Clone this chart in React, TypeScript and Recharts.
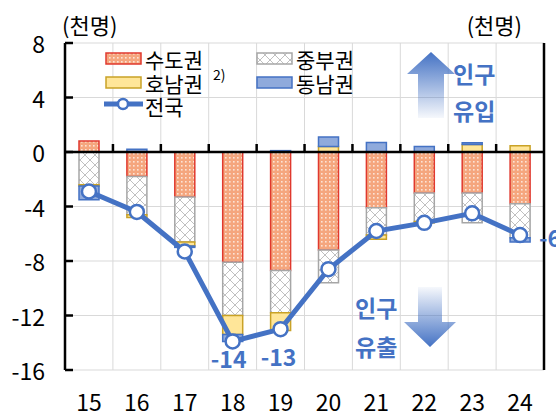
import {
  ComposedChart,
  Bar,
  Line,
  XAxis,
  YAxis,
  CartesianGrid,
  ReferenceLine,
  LabelList,
} from "recharts";

const FONT = '"Noto Sans CJK KR", "Noto Sans", sans-serif';
const BLUE = "#4472C4";

const years = ["15", "16", "17", "18", "19", "20", "21", "22", "23", "24"];
const sudo = [0.8, -1.8, -3.3, -8.1, -8.7, -7.2, -4.1, -3.0, -3.0, -3.8];
const jungbu = [-2.4, -2.8, -3.3, -3.9, -3.1, -2.4, -2.0, -2.1, -2.2, -2.5];
const honam = [-0.1, -0.2, -0.3, -1.4, -1.3, 0.4, -0.3, -0.1, 0.55, 0.45];
const dongnam = [-1.0, 0.2, -0.1, -0.5, 0.1, 0.7, 0.7, 0.4, 0.12, -0.3];
const total = [-2.9, -4.4, -7.3, -13.9, -13.0, -8.6, -5.8, -5.2, -4.5, -6.1];
const yTicks = [-16, -12, -8, -4, 0, 4, 8];

const data = years.map((y, i) => ({
  year: y,
  sudo: sudo[i],
  jungbu: jungbu[i],
  honam: honam[i],
  dongnam: dongnam[i],
  total: total[i],
}));

// plot box: x 65..544, y 43..370
const ZERO_Y = 152;

const LeftTick = ({ y, payload }: any) => (
  <g>
    <text
      x={45}
      y={y}
      textAnchor="end"
      dominantBaseline="central"
      fontSize={23}
      fontFamily={FONT}
      fill="#000"
    >
      {payload.value}
    </text>
    <line x1={65} x2={73} y1={y} y2={y} stroke="#000" strokeWidth={2.5} />
  </g>
);

const RightTick = ({ y }: any) => (
  <line x1={536} x2={544} y1={y} y2={y} stroke="#000" strokeWidth={2.5} />
);

const XTick = ({ x, payload, index }: any) => (
  <g>
    <text
      x={x}
      y={401}
      textAnchor="middle"
      dominantBaseline="central"
      fontSize={23}
      fontFamily={FONT}
      fill="#000"
    >
      {payload.value}
    </text>
    {index < years.length - 1 && (
      <line
        x1={x + 24}
        x2={x + 24}
        y1={ZERO_Y - 8}
        y2={ZERO_Y}
        stroke="#000"
        strokeWidth={2.5}
      />
    )}
  </g>
);

const labelPos: Record<number, [number, number, string]> = {
  3: [-4, 17, "middle"],
  4: [-2, 27, "middle"],
  9: [19, 2, "start"],
};

const TotalLabel = ({ x, y, value, index }: any) => {
  const p = labelPos[index];
  if (!p) return null;
  return (
    <text
      x={x + p[0]}
      y={y + p[1]}
      textAnchor={p[2]}
      dominantBaseline="central"
      fontSize={23}
      fontWeight="bold"
      fontFamily={FONT}
      fill={BLUE}
    >
      {Math.round(value)}
    </text>
  );
};

export default function App() {
  return (
    <div
      style={{
        position: "absolute",
        left: 0,
        top: 0,
        width: 556,
        height: 414,
        background: "#fff",
        fontFamily: FONT,
      }}
    >
      <svg width={0} height={0} style={{ position: "absolute" }}>
        <defs>
          <pattern id="pDot" width="4" height="4" patternUnits="userSpaceOnUse">
            <rect width="4" height="4" fill="#F5A67E" />
            <rect x="1" y="1" width="1.6" height="1.6" fill="#FDE3D6" />
          </pattern>
          <pattern id="pCross" width="10" height="10" patternUnits="userSpaceOnUse">
            <rect width="10" height="10" fill="#fff" />
            <path d="M0 0L10 10M10 0L0 10" stroke="#C0C0C0" strokeWidth="1" />
          </pattern>
          <linearGradient id="gUp" x1="0" y1="0" x2="0" y2="1">
            <stop offset="0" stopColor={BLUE} />
            <stop offset="1" stopColor={BLUE} stopOpacity="0.05" />
          </linearGradient>
          <linearGradient id="gDown" x1="0" y1="0" x2="0" y2="1">
            <stop offset="0" stopColor={BLUE} stopOpacity="0.05" />
            <stop offset="1" stopColor={BLUE} />
          </linearGradient>
        </defs>
      </svg>

      <ComposedChart
        width={556}
        height={414}
        data={data}
        stackOffset="sign"
        margin={{ top: 43, right: 0, bottom: 0, left: 0 }}
      >
        <CartesianGrid
          yAxisId="l"
          stroke="#D9D9D9"
          strokeWidth={1}
          verticalCoordinatesGenerator={({ offset }: any) =>
            years.map((_, i) => offset.left + (i * offset.width) / years.length)
          }
        />
        <XAxis
          dataKey="year"
          height={44}
          axisLine={false}
          tickLine={false}
          tick={<XTick />}
          interval={0}
        />
        <YAxis
          yAxisId="l"
          width={65}
          domain={[-16, 8]}
          ticks={yTicks}
          interval={0}
          axisLine={{ stroke: "#000", strokeWidth: 2.5 }}
          tickLine={false}
          tick={<LeftTick />}
        />
        <YAxis
          yAxisId="r"
          orientation="right"
          width={12}
          domain={[-16, 8]}
          ticks={yTicks}
          interval={0}
          axisLine={{ stroke: "#000", strokeWidth: 2.5 }}
          tickLine={false}
          tick={<RightTick />}
        />
        <Bar yAxisId="l" dataKey="sudo" stackId="a" barSize={20} fill="url(#pDot)" stroke="#E0392E" strokeWidth={1.5} isAnimationActive={false} />
        <Bar yAxisId="l" dataKey="jungbu" stackId="a" barSize={20} fill="url(#pCross)" stroke="#A6A6A6" strokeWidth={1.5} isAnimationActive={false} />
        <Bar yAxisId="l" dataKey="honam" stackId="a" barSize={20} fill="#FFE699" stroke="#C9A227" strokeWidth={1.5} isAnimationActive={false} />
        <Bar yAxisId="l" dataKey="dongnam" stackId="a" barSize={20} fill="#8FAADC" stroke="#4472C4" strokeWidth={1.5} isAnimationActive={false} />
        <ReferenceLine yAxisId="l" y={0} stroke="#000" strokeWidth={2.5} />
        <Line
          yAxisId="l"
          dataKey="total"
          stroke={BLUE}
          strokeWidth={5}
          dot={{ r: 7, fill: "#fff", stroke: BLUE, strokeWidth: 2.5 }}
          isAnimationActive={false}
        >
          <LabelList dataKey="total" content={<TotalLabel />} />
        </Line>
      </ComposedChart>

      <svg
        width={556}
        height={414}
        style={{ position: "absolute", left: 0, top: 0, pointerEvents: "none" }}
        fontFamily={FONT}
      >
        <text x={62} y={24} fontSize={22} dominantBaseline="central">(천명)</text>
        <text x={522} y={24} fontSize={22} textAnchor="end" dominantBaseline="central">(천명)</text>

        {/* legend */}
        <rect x={106} y={53} width={35} height={11} fill="url(#pDot)" stroke="#E0392E" strokeWidth={1.5} />
        <text x={145} y={59} fontSize={21} dominantBaseline="central">수도권</text>
        <rect x={106} y={77} width={35} height={11} fill="#FFE699" stroke="#C9A227" strokeWidth={1.5} />
        <text x={145} y={83} fontSize={21} dominantBaseline="central">호남권</text>
        <text x={213} y={74} fontSize={14} dominantBaseline="central">2)</text>
        <line x1={104} x2={143} y1={104} y2={104} stroke={BLUE} strokeWidth={5} />
        <circle cx={123} cy={104} r={5} fill="#fff" stroke={BLUE} strokeWidth={2.5} />
        <text x={145} y={106} fontSize={21} dominantBaseline="central">전국</text>
        <rect x={257} y={53} width={35} height={11} fill="url(#pCross)" stroke="#A6A6A6" strokeWidth={1.5} />
        <text x={296} y={59} fontSize={21} dominantBaseline="central">중부권</text>
        <rect x={257} y={77} width={35} height={11} fill="#8FAADC" stroke="#4472C4" strokeWidth={1.5} />
        <text x={296} y={83} fontSize={21} dominantBaseline="central">동남권</text>

        {/* arrows */}
        <path d="M431 52 L455 74 L444 74 L444 118 L418 118 L418 74 L407 74 Z" fill="url(#gUp)" />
        <text x={453} y={73} fontSize={23} fontWeight="bold" fill={BLUE} dominantBaseline="central">인구</text>
        <text x={453} y={110} fontSize={23} fontWeight="bold" fill={BLUE} dominantBaseline="central">유입</text>
        <path d="M418 287 L442 287 L442 322 L456 322 L430 347 L404 322 L418 322 Z" fill="url(#gDown)" />
        <text x={355} y={307} fontSize={23} fontWeight="bold" fill={BLUE} dominantBaseline="central">인구</text>
        <text x={355} y={346} fontSize={23} fontWeight="bold" fill={BLUE} dominantBaseline="central">유출</text>
      </svg>
    </div>
  );
}
